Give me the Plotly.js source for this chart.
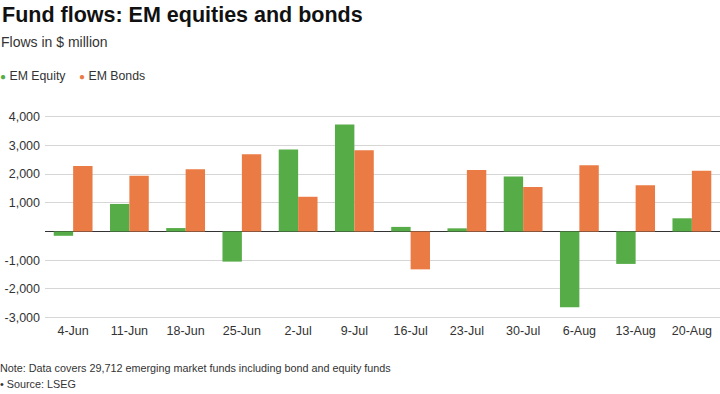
<!DOCTYPE html>
<html>
<head>
<meta charset="utf-8">
<script src="https://cdn.plot.ly/plotly-3.0.1.min.js"></script>
<style>html,body{margin:0;padding:0;background:#fff;}#chart{width:720px;height:394px;}</style>
</head>
<body>
<div id="chart"></div>
<script>
const weeks = ["4-Jun","11-Jun","18-Jun","25-Jun","2-Jul","9-Jul","16-Jul","23-Jul","30-Jul","6-Aug","13-Aug","20-Aug"];
const emEquity = [-150, 960, 120, -1050, 2860, 3730, 160, 110, 1920, -2640, -1130, 460];
const emBonds = [2280, 1940, 2170, 2690, 1210, 2830, -1320, 2140, 1550, 2310, 1610, 2120];
const yTickVals = [-3000, -2000, -1000, 0, 1000, 2000, 3000, 4000];
const yTickText = ["-3,000", "-2,000", "-1,000", "", "1,000", "2,000", "3,000", "4,000"];

const GREEN = "#56ac47";
const ORANGE = "#eb7b45";
const FONT = "Liberation Sans, Arial, Helvetica, sans-serif";

const W = 720, H = 394;
const M = {l: 45, r: 0, t: 113, b: 73};
function px(x, y) {
  return {x: (x - M.l) / (W - M.l - M.r), y: (H - M.b - y) / (H - M.t - M.b)};
}
function ann(text, x, y, size, color, extra) {
  const p = px(x, y);
  return Object.assign({
    text: text, xref: "paper", yref: "paper", x: p.x, y: p.y,
    xanchor: "left", yanchor: "middle", showarrow: false,
    font: {family: FONT, size: size, color: color}
  }, extra || {});
}

const data = [
  {type: "bar", name: "EM Equity", x: weeks, y: emEquity, marker: {color: GREEN}, hoverinfo: "x+y+name"},
  {type: "bar", name: "EM Bonds", x: weeks, y: emBonds, marker: {color: ORANGE}, hoverinfo: "x+y+name"}
];

const layout = {
  width: W, height: H,
  margin: M,
  paper_bgcolor: "#ffffff", plot_bgcolor: "#ffffff",
  showlegend: false,
  barmode: "group", bargap: 0.31, bargroupgap: 0,
  font: {family: FONT, color: "#333333"},
  title: {
    text: "<b>Fund flows: EM equities and bonds</b>",
    xref: "container", yref: "container",
    x: 2 / W, xanchor: "left",
    y: 1 - 14 / H, yanchor: "middle",
    font: {family: FONT, size: 21.5, color: "#111111"}
  },
  xaxis: {
    type: "category",
    tickfont: {family: FONT, size: 12.5, color: "#333333"},
    showgrid: false, showline: false, ticks: "", zeroline: false,
    fixedrange: true
  },
  yaxis: {
    range: [-3120, 4130],
    tickvals: yTickVals, ticktext: yTickText,
    tickfont: {family: FONT, size: 12.5, color: "#333333"},
    showgrid: true, gridcolor: "#d6d6d6", gridwidth: 1,
    zeroline: true, zerolinecolor: "#333333", zerolinewidth: 1,
    showline: false, ticks: "", ticklabelstandoff: 4,
    fixedrange: true
  },
  annotations: [
    ann("Flows in $ million", -1, 42, 14, "#333333"),
    ann('<span style="color:' + GREEN + ';font-size:10px">\u25CF</span> EM Equity', -2, 76, 12.3, "#333333"),
    ann('<span style="color:' + ORANGE + ';font-size:10px">\u25CF</span> EM Bonds', 77, 76, 12.3, "#333333"),
    ann("Note: Data covers 29,712 emerging market funds including bond and equity funds", -2, 368, 10.8, "#333333"),
    ann("\u2022 Source: LSEG", -2, 384, 10.8, "#333333")
  ]
};

Plotly.newPlot("chart", data, layout, {displayModeBar: false, staticPlot: true});
</script>
</body>
</html>
